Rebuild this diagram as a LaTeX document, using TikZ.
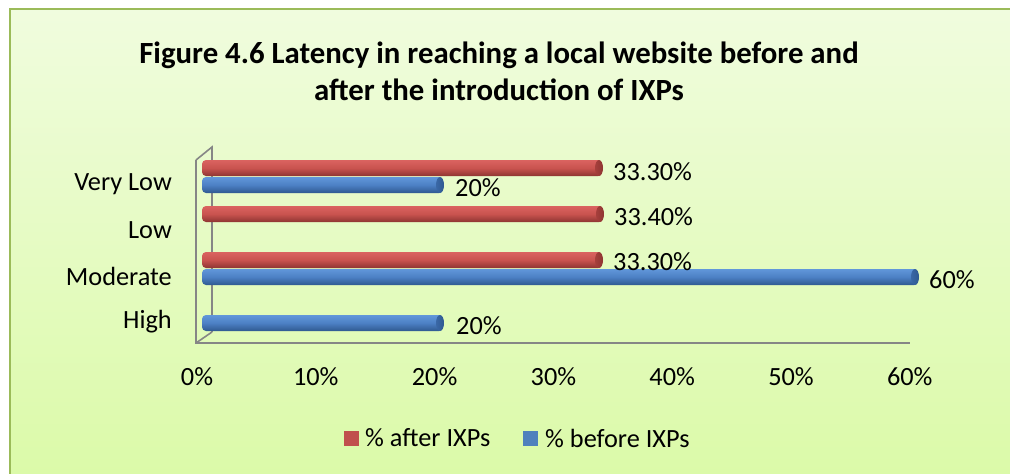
\documentclass[tikz,border=0pt]{standalone}
\usepackage{fontspec}
\setmainfont{Carlito}
\definecolor{bgtop}{RGB}{240,252,222}
\definecolor{bgbot}{RGB}{219,250,168}
\definecolor{frame}{HTML}{9BBB59}
\definecolor{axisgray}{HTML}{868686}
\definecolor{redtop}{HTML}{DA6360}
\definecolor{redmid}{HTML}{C9534F}
\definecolor{redbot}{HTML}{8E3532}
\definecolor{redcap}{HTML}{A63F3C}
\definecolor{bluetop}{HTML}{6197DA}
\definecolor{bluemid}{HTML}{4C80C4}
\definecolor{bluebot}{HTML}{2F5990}
\definecolor{bluecap}{HTML}{3A68A6}
\definecolor{redleg}{HTML}{C0504D}
\definecolor{blueleg}{HTML}{4F81BD}
\newcommand{\cylbar}[3]{%
  \shade[top color=#3top, bottom color=#3bot, middle color=#3mid, rounded corners=4pt]
    (202,#1-8) rectangle (#2,#1+8);
  \shade[left color=#3cap, right color=#3bot] (#2-3,#1) ellipse [x radius=4, y radius=8];
}
\begin{document}
\begin{tikzpicture}[x=1pt,y=-1pt,
  lbl/.style={font=\fontsize{26.3}{31}\selectfont, inner sep=0pt, text=black},
  ttl/.style={font=\fontsize{30.8}{37}\selectfont\bfseries, inner sep=0pt, align=center, text=black},
  axisline/.style={draw=axisgray, line width=1.6pt},
  legbox/.style={minimum width=15pt, minimum height=15pt, inner sep=0pt}]
\useasboundingbox (0,0) rectangle (1010,474);
\clip (0,0) rectangle (1010,474);
\shade[top color=bgtop, bottom color=bgbot] (10,9) rectangle (1016,480);
\draw[frame, line width=2pt] (10,9) rectangle (1016,480);

\node[ttl] (title) at (499,71) {Figure 4.6 Latency in reaching a local website before and\\after the introduction of IXPs};

% walls
\draw[axisline] (196,160) -- (212,147) -- (212,332);
\draw[axisline] (196,160) -- (196,343) -- (910,343);
\draw[axisline] (196,343) -- (212,332);

% bars
\cylbar{168}{602}{red}
\cylbar{185}{443}{blue}
\cylbar{214}{603}{red}
\cylbar{260}{602}{red}
\cylbar{277}{918}{blue}
\cylbar{323}{443}{blue}

% value labels
\node[lbl, anchor=west] (v1) at (613,172) {33.30\%};
\node[lbl, anchor=west] (v2) at (455,188) {20\%};
\node[lbl, anchor=west] (v3) at (614,217) {33.40\%};
\node[lbl, anchor=west] (v4) at (613,262) {33.30\%};
\node[lbl, anchor=west] (v5) at (929,280) {60\%};
\node[lbl, anchor=west] (v6) at (456,326) {20\%};

% category labels
\node[lbl, anchor=east] (c1) at (172,184) {Very Low};
\node[lbl, anchor=east] (c2) at (172,230) {Low};
\node[lbl, anchor=east] (c3) at (172,276) {Moderate};
\node[lbl, anchor=east] (c4) at (172,322) {High};

% x tick labels
\foreach \i/\t in {0/0,1/10,2/20,3/30,4/40,5/50,6/60}
  \node[lbl] (t\i) at (197+118.8*\i,377) {\t\%};

% legend
\node[legbox, fill=redleg] (lr) at (351.5,438.5) {};
\node[lbl, anchor=west] (lrt) at (365,438) {\% after IXPs};
\node[legbox, fill=blueleg] (lb) at (530.5,438.5) {};
\node[lbl, anchor=west] (lbt) at (545,438) {\% before IXPs};
\end{tikzpicture}
\end{document}
